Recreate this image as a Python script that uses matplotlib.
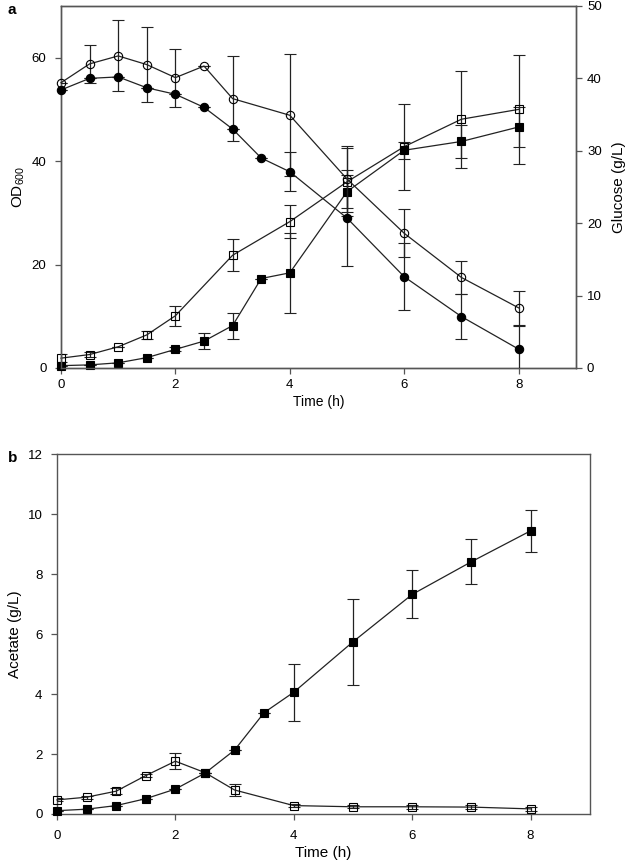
import matplotlib.pyplot as plt
from matplotlib import rcParams

rcParams["font.family"] = ["Liberation Sans", "DejaVu Sans"]
rcParams["font.size"] = 9.5
rcParams["mathtext.default"] = "regular"

# panel a: glucose (right axis, circles) and OD600 (left axis, squares)
t_glc_open = [0, 0.5, 1, 1.5, 2, 2.5, 3, 4, 5, 6, 7, 8]
glc_open = [39.4, 42.0, 43.1, 41.9, 40.1, 41.7, 37.2, 34.9, 26.1, 18.6, 12.5, 8.3]
glc_open_err = [0, 2.6, 4.9, 5.2, 4.0, 0, 5.9, 8.4, 4.5, 3.3, 2.3, 2.4]

t_glc_fill = [0, 0.5, 1, 1.5, 2, 2.5, 3, 3.5, 4, 5, 6, 7, 8]
glc_fill = [38.4, 40.0, 40.2, 38.7, 37.8, 36.0, 33.0, 29.0, 27.1, 20.7, 12.6, 7.1, 2.6]
glc_fill_err = [0, 0, 0, 0, 0, 0, 0, 0, 2.7, 6.6, 4.6, 3.1, 3.2]

t_od_open = [0, 0.5, 1, 1.5, 2, 3, 4, 5, 6, 7, 8]
od_open = [1.9, 2.6, 4.1, 6.4, 10.1, 21.8, 28.3, 36.0, 42.8, 48.1, 50.0]
od_open_err = [0.8, 0.5, 0, 0.8, 1.9, 3.1, 3.2, 6.6, 8.3, 9.4, 10.5]

t_od_fill = [0, 0.5, 1, 1.5, 2, 2.5, 3, 3.5, 4, 5, 6, 7, 8]
od_fill = [0.45, 0.6, 1.0, 2.0, 3.6, 5.2, 8.2, 17.3, 18.4, 34.1, 42.1, 43.8, 46.6]
od_fill_err = [0, 0, 0, 0, 0.4, 1.55, 2.5, 0, 7.7, 3.2, 1.6, 3.2, 3.9]

# panel b: acetate
t_ac_fill = [0, 0.5, 1, 1.5, 2, 2.5, 3, 3.5, 4, 5, 6, 7, 8]
ac_fill = [0.11, 0.16, 0.28, 0.51, 0.83, 1.36, 2.13, 3.38, 4.06, 5.74, 7.32, 8.41, 9.44]
ac_fill_err = [0, 0, 0, 0, 0, 0, 0, 0, 0.95, 1.43, 0.8, 0.75, 0.7]

t_ac_open = [0, 0.5, 1, 1.5, 2, 2.5, 3, 4, 5, 6, 7, 8]
ac_open = [0.47, 0.56, 0.76, 1.28, 1.76, 1.38, 0.8, 0.28, 0.24, 0.24, 0.23, 0.17]
ac_open_err = [0.05, 0.05, 0.1, 0.05, 0.27, 0, 0.21, 0.05, 0.05, 0.07, 0.06, 0.07]

lc = "#222222"
sc = "#555555"


def series(ax, t, y, e, marker, filled):
    pl, caps, bars = ax.errorbar(t, y, yerr=e, color=lc, lw=0.9, elinewidth=0.9,
                                 capsize=4.5, capthick=0.9, marker=marker,
                                 ms=6 if marker == "o" else 5.5,
                                 mfc="black" if filled else "none", mec="black", mew=0.8,
                                 clip_on=False, zorder=3)
    # error bars stay inside the axes, markers may sit on the spine
    for c in caps:
        c.set_clip_on(True)
    for b in bars:
        b.set_clip_on(True)


def style(ax):
    for s in ax.spines.values():
        s.set_color(sc)
        s.set_linewidth(1.0)
    ax.tick_params(colors=sc, labelcolor="black", length=4.5, width=0.9)


fig = plt.figure(figsize=(6.38, 8.63), dpi=100)

# ---- panel a
ax1 = fig.add_axes([0.0956, 0.5736, 0.807, 0.4195])
ax2 = ax1.twinx()
series(ax1, t_od_open, od_open, od_open_err, "s", False)
series(ax1, t_od_fill, od_fill, od_fill_err, "s", True)
series(ax2, t_glc_open, glc_open, glc_open_err, "o", False)
series(ax2, t_glc_fill, glc_fill, glc_fill_err, "o", True)
ax1.set_xlim(0, 9)
ax1.set_ylim(0, 70)
ax2.set_ylim(0, 50)
ax1.set_xticks([0, 2, 4, 6, 8])
ax1.set_yticks([0, 20, 40, 60])
ax2.set_yticks([0, 10, 20, 30, 40, 50])
style(ax1)
style(ax2)
ax1.tick_params(axis="y", pad=6)
ax1.set_xlabel("Time (h)", fontsize=10, labelpad=3)
ax1.set_ylabel("OD$_{600}$", fontsize=11, labelpad=3)
ax2.set_ylabel("Glucose (g/L)", fontsize=11, labelpad=7)
fig.text(0.012, 0.9965, "a", fontweight="bold", fontsize=11, va="top")

# ---- panel b
ax3 = fig.add_axes([0.0893, 0.0568, 0.835, 0.417])
series(ax3, t_ac_open, ac_open, ac_open_err, "s", False)
series(ax3, t_ac_fill, ac_fill, ac_fill_err, "s", True)
ax3.set_xlim(0, 9)
ax3.set_ylim(0, 12)
ax3.set_xticks([0, 2, 4, 6, 8])
ax3.set_yticks([0, 2, 4, 6, 8, 10, 12])
style(ax3)
ax3.tick_params(axis="x", pad=7)
ax3.tick_params(axis="y", pad=6)
ax3.set_xlabel("Time (h)", fontsize=11, labelpad=3)
ax3.set_ylabel("Acetate (g/L)", fontsize=11, labelpad=4)
fig.text(0.012, 0.4774, "b", fontweight="bold", fontsize=11, va="top")

fig.savefig("out.png", dpi=100)
